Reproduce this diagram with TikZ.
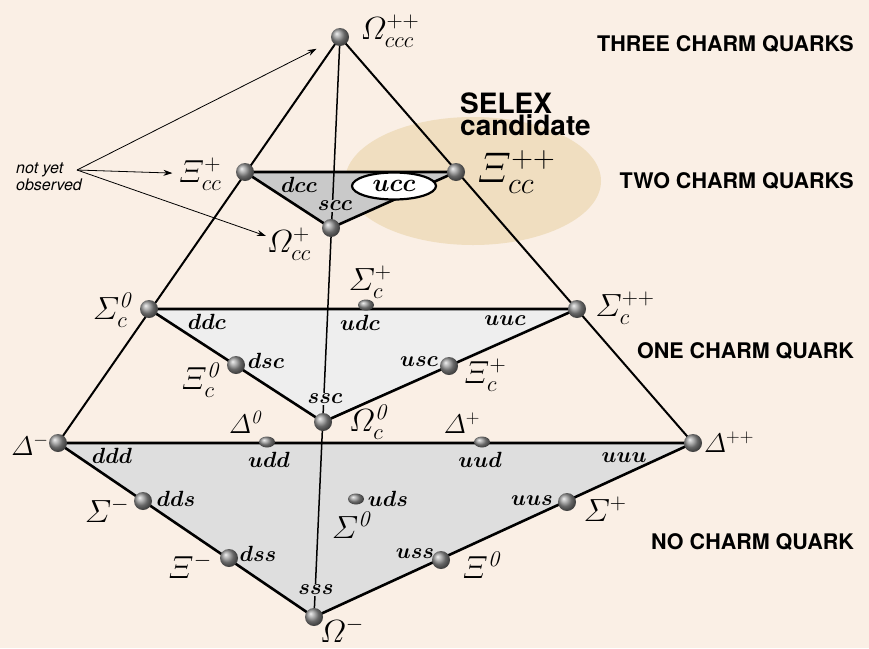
\RequirePackage{fix-cm}
\documentclass[tikz,border=0pt]{standalone}
\usepackage{fontspec}
\usepackage{amsmath,bm}
\usetikzlibrary{arrows.meta,shapes.geometric}
\newfontfamily\helv{TeX Gyre Heros}
\definecolor{paper}{HTML}{FAEFE5}
\definecolor{selex}{HTML}{F0DEC0}
\definecolor{twocharm}{HTML}{C9C9C9}
\definecolor{onecharm}{HTML}{EEEEEE}
\definecolor{nocharm}{HTML}{DEDEDE}
\pgfdeclarelayer{back}
\pgfdeclarelayer{mid}
\pgfsetlayers{back,mid,main}
\tikzset{
  ball/.style={circle,minimum size=18pt,inner sep=0pt,shading=ball,ball color=gray!85},
  flatball/.style={ball,ellipse,minimum width=16pt,minimum height=11pt},
  hadron/.style={font=\fontsize{32}{36}\selectfont,inner sep=1pt},
  delta/.style={font=\fontsize{27}{30}\selectfont,inner sep=1pt},
  quark/.style={font=\fontsize{22}{24}\selectfont,inner sep=1pt},
  level/.style={font=\helv\bfseries\fontsize{21.5}{24}\selectfont,anchor=east,inner sep=0pt},
  edge/.style={line width=2pt},
  tri/.style={line width=2.6pt,line join=round},
  axis/.style={line width=1.5pt},
  pointer/.style={line width=0.8pt,-{Stealth[length=9pt,width=6pt]}}
}

\begin{document}
\begin{tikzpicture}[x=1pt,y=-1pt]
  \useasboundingbox (0,0) rectangle (869,648);
  \begin{pgfonlayer}{back}
    \fill[paper] (0,0) rectangle (869,648);
    \node[ellipse,fill=selex,minimum width=256pt,minimum height=128pt] (selexzone) at (473,181) {};
  \end{pgfonlayer}

  % Balls: three charm quarks
  \node[ball] (omccc) at (340,37) {};
  % two charm quarks
  \node[ball] (xiccp) at (245,172) {};
  \node[ball] (xiccpp) at (456,172) {};
  \node[ball] (omccp) at (331,228) {};
  % one charm quark
  \node[ball] (sigc0) at (149,309) {};
  \node[flatball] (sigcp) at (366,305) {};
  \node[ball] (sigcpp) at (577,309) {};
  \node[ball] (xic0) at (236,365) {};
  \node[ball] (xicp) at (449,366) {};
  \node[ball] (omc0) at (323,422) {};
  % no charm quark
  \node[ball] (delm) at (58,443) {};
  \node[flatball] (del0) at (267,442) {};
  \node[flatball] (delp) at (482,442) {};
  \node[ball] (delpp) at (693,443) {};
  \node[ball] (sigm) at (143,501) {};
  \node[flatball] (sig0) at (356,499) {};
  \node[ball] (sigp) at (567,502) {};
  \node[ball] (xim) at (229,558) {};
  \node[ball] (xi0) at (441,560) {};
  \node[ball] (omm) at (314,617) {};

  % Faces and edges
  \begin{pgfonlayer}{mid}
    \fill[nocharm] (delm.center) -- (delpp.center) -- (omm.center) -- cycle;
    \fill[onecharm] (sigc0.center) -- (sigcpp.center) -- (omc0.center) -- cycle;
    \fill[twocharm] (xiccp.center) -- (xiccpp.center) -- (omccp.center) -- cycle;
    \draw[axis] (omccc.center) -- (omm.center);
    \draw[edge] (omccc.center) -- (delm.center);
    \draw[edge] (omccc.center) -- (delpp.center);
    \draw[tri] (delm.center) -- (delpp.center) -- (omm.center) -- cycle;
    \draw[tri] (sigc0.center) -- (sigcpp.center) -- (omc0.center) -- cycle;
    \draw[tri] (xiccp.center) -- (xiccpp.center) -- (omccp.center) -- cycle;
  \end{pgfonlayer}

  % Hadron labels
  \node[hadron] (l-omccc) at (390,31) {$\varOmega_{ccc}^{++}$};
  \node[hadron] (l-xiccp) at (200,174) {$\varXi_{cc}^{+}$};
  \node[font=\fontsize{43}{46}\selectfont,inner sep=1pt] (l-xiccpp) at (516,172) {$\varXi_{cc}^{++}$};
  \node[hadron] (l-omccp) at (289,244) {$\varOmega_{cc}^{+}$};
  \node[hadron] (l-sigc0) at (112,310) {$\varSigma_{c}^{\mathit{0}}$};
  \node[hadron] (l-sigcp) at (370,282) {$\varSigma_{c}^{+}$};
  \node[hadron] (l-sigcpp) at (625,308) {$\varSigma_{c}^{++}$};
  \node[hadron] (l-xic0) at (200,380) {$\varXi_{c}^{\mathit{0}}$};
  \node[hadron] (l-xicp) at (485,375) {$\varXi_{c}^{+}$};
  \node[hadron] (l-omc0) at (368,422) {$\varOmega_{c}^{\mathit{0}}$};
  \node[delta] (l-delm) at (30,445) {$\varDelta^{-}$};
  \node[delta] (l-del0) at (245,422) {$\varDelta^{\mathit{0}}$};
  \node[delta] (l-delp) at (462,423) {$\varDelta^{+}$};
  \node[delta] (l-delpp) at (729,442) {$\varDelta^{++}$};
  \node[hadron] (l-sigm) at (107,510) {$\varSigma^{-}$};
  \node[hadron] (l-sig0) at (351,525) {$\varSigma^{\mathit{0}}$};
  \node[hadron] (l-sigp) at (605,509) {$\varSigma^{+}$};
  \node[hadron] (l-xim) at (190,566) {$\varXi^{-}$};
  \node[hadron] (l-xi0) at (481,565) {$\varXi^{\mathit{0}}$};
  \node[hadron] (l-omm) at (342,630) {$\varOmega^{-}$};

  % Quark content
  \node[ellipse,draw,fill=white,line width=2.2pt,minimum width=84pt,minimum height=27pt,inner sep=0pt,font=\fontsize{25}{26}\selectfont] (q-ucc) at (394,186) {$\bm{ucc}$};
  \node[quark] (q-dcc) at (299,185) {$\bm{dcc}$};
  \node[quark,fill=twocharm] (q-scc) at (335,206) {$\bm{scc}$};
  \node[quark] (q-ddc) at (207,322) {$\bm{ddc}$};
  \node[quark] (q-udc) at (360,323) {$\bm{udc}$};
  \node[quark] (q-uuc) at (505,321) {$\bm{uuc}$};
  \node[quark] (q-dsc) at (266,361) {$\bm{dsc}$};
  \node[quark] (q-usc) at (419,362) {$\bm{usc}$};
  \node[quark,fill=onecharm] (q-ssc) at (325,399) {$\bm{ssc}$};
  \node[quark] (q-ddd) at (112,456) {$\bm{ddd}$};
  \node[quark] (q-udd) at (269,460) {$\bm{udd}$};
  \node[quark] (q-uud) at (480,460) {$\bm{uud}$};
  \node[quark] (q-uuu) at (624,458) {$\bm{uuu}$};
  \node[quark] (q-dds) at (176,499) {$\bm{dds}$};
  \node[quark] (q-uds) at (388,499) {$\bm{uds}$};
  \node[quark] (q-uus) at (532,501) {$\bm{uus}$};
  \node[quark] (q-dss) at (258,554) {$\bm{dss}$};
  \node[quark] (q-uss) at (415,554) {$\bm{uss}$};
  \node[quark,fill=nocharm] (q-sss) at (316,590) {$\bm{sss}$};

  % Levels
  \node[level] (three) at (854,44) {THREE CHARM QUARKS};
  \node[level] (two) at (854,181) {TWO CHARM QUARKS};
  \node[level] (one) at (854,351) {ONE CHARM QUARK};
  \node[level] (none) at (854,542) {NO CHARM QUARK};

  % SELEX and not yet observed
  \node[align=left,anchor=west,inner sep=0pt,font=\helv\bfseries\fontsize{28}{21}\selectfont] (selex) at (460,114) {SELEX\\candidate};
  \node[align=left,anchor=west,inner sep=0pt,font=\helv\itshape\fontsize{16}{17}\selectfont] (notyet) at (16,177) {not yet\\observed};
  \coordinate (nyo) at (77,170);
  \draw[pointer,shorten >=17pt] (nyo) -- (omccc);
  \draw[pointer,shorten >=5pt] (nyo) -- (l-xiccp);
  \draw[pointer] (nyo) -- (l-omccp);
\end{tikzpicture}
\end{document}
